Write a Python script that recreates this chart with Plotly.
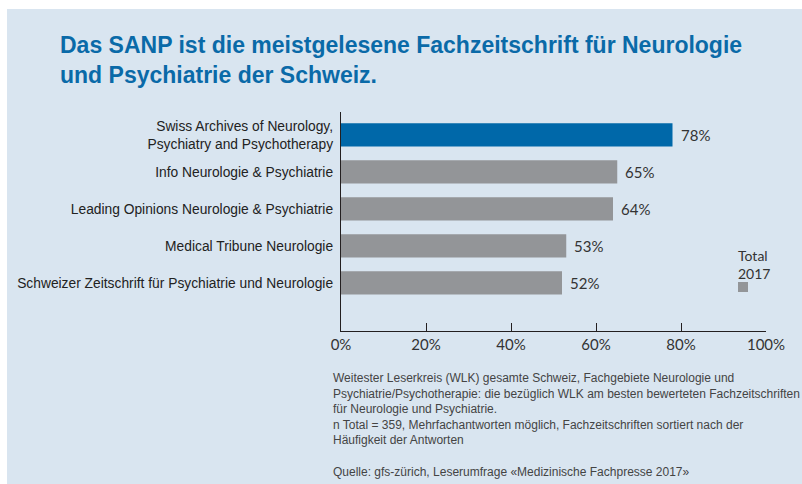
import plotly.graph_objects as go

categories = [
    "Swiss Archives of Neurology,<br>Psychiatry and Psychotherapy",
    "Info Neurologie & Psychiatrie",
    "Leading Opinions Neurologie & Psychiatrie",
    "Medical Tribune Neurologie",
    "Schweizer Zeitschrift für Psychiatrie und Neurologie",
]
values = [78, 65, 64, 53, 52]
bar_colors = ["#0068a9", "#939598", "#939598", "#939598", "#939598"]
x_ticks = [0, 20, 40, 60, 80, 100]
x_tick_labels = ["0%", "20%", "40%", "60%", "80%", "100%"]

title_text = ("Das SANP ist die meistgelesene Fachzeitschrift für Neurologie<br>"
              "und Psychiatrie der Schweiz.")
footnote = ("Weitester Leserkreis (WLK) gesamte Schweiz, Fachgebiete Neurologie und<br>"
            "Psychiatrie/Psychotherapie: die bezüglich WLK am besten bewerteten Fachzeitschriften<br>"
            "für Neurologie und Psychiatrie.<br>"
            "n Total = 359, Mehrfachantworten möglich, Fachzeitschriften sortiert nach der<br>"
            "Häufigkeit der Antworten<br><br>"
            "Quelle: gfs-zürich, Leserumfrage «Medizinische Fachpresse 2017»")

BG = "#d9e5f0"
W, H = 802, 484
L, R, T, B = 341, 36, 112, 153
pw, ph = W - L - R, H - T - B

def px(xp):
    return (xp - L) / pw

def py(yp):
    return (H - B - yp) / ph

fig = go.Figure()
fig.add_trace(go.Bar(
    x=values, y=list(range(len(categories))), orientation="h",
    marker=dict(color=bar_colors, line=dict(width=0)),
    width=0.63, showlegend=False, hoverinfo="skip",
))

annotations = []
for i, v in enumerate(values):
    annotations.append(dict(
        x=v, y=i, xref="x", yref="y", text=f"{v}%", showarrow=False,
        xanchor="left", yanchor="middle", xshift=6,
        font=dict(family="Lato, Open Sans, sans-serif", size=15, color="#333333"),
    ))

annotations.append(dict(
    x=px(58), y=py(30), xref="paper", yref="paper", text=title_text,
    showarrow=False, xanchor="left", yanchor="top", align="left",
    font=dict(family="Liberation Sans, Arial, sans-serif",
              size=23, color="#0a6aa8", weight="bold"),
))
annotations.append(dict(
    x=px(331), y=py(369), xref="paper", yref="paper", text=footnote,
    showarrow=False, xanchor="left", yanchor="top", align="left",
    font=dict(family="Liberation Sans, Arial, sans-serif", size=12, color="#444444"),
))
annotations.append(dict(
    x=px(736), y=py(245), xref="paper", yref="paper", text="Total<br>2017",
    showarrow=False, xanchor="left", yanchor="top", align="left",
    font=dict(family="Lato, Open Sans, sans-serif", size=14, color="#333333"),
))

shapes = [
    dict(type="rect", xref="paper", yref="paper", x0=px(-10), x1=px(W + 10),
         y0=py(9), y1=py(-10), fillcolor="white", line=dict(width=0), layer="below"),
    dict(type="rect", xref="paper", yref="paper", x0=px(-10), x1=px(7),
         y0=py(H + 10), y1=py(-10), fillcolor="white", line=dict(width=0), layer="below"),
    dict(type="rect", xref="paper", yref="paper", x0=px(738), x1=px(748),
         y0=py(292), y1=py(282), fillcolor="#939598", line=dict(width=0)),
]

fig.update_layout(
    width=W, height=H,
    margin=dict(l=L, r=R, t=T, b=B, pad=0, autoexpand=False),
    paper_bgcolor=BG, plot_bgcolor=BG,
    annotations=annotations, shapes=shapes,
    xaxis=dict(
        range=[0, 100], tickvals=x_ticks, ticktext=x_tick_labels,
        showgrid=False, zeroline=False, showline=True, linecolor="#231f20", linewidth=1.3,
        ticks="inside", ticklen=8, tickwidth=1.3, tickcolor="#231f20",
        tickfont=dict(family="Lato, Open Sans, sans-serif", size=15, color="#333333"),
        automargin=False, fixedrange=True,
    ),
    yaxis=dict(
        range=[5.3, -0.62], tickvals=list(range(len(categories))), ticktext=categories,
        showgrid=False, zeroline=False, showline=True, linecolor="#231f20", linewidth=1.3,
        ticks="", ticklabelstandoff=4,
        tickfont=dict(family="Liberation Sans Narrow, Arial Narrow, Liberation Sans, sans-serif",
                      size=13.8, color="#222222"),
        automargin=False, fixedrange=True,
    ),
)

fig.write_html("out.html", config={"displayModeBar": False},
               post_script="document.body.style.margin='0';")
